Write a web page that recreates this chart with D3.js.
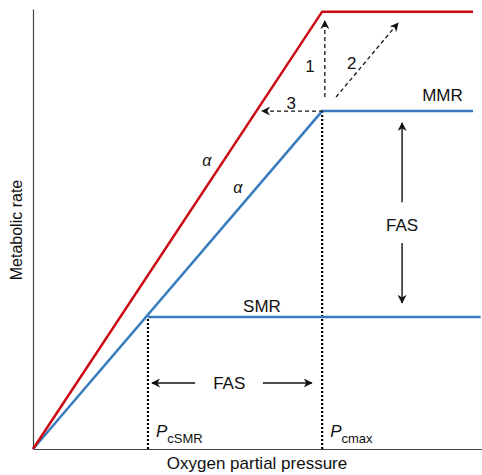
<!DOCTYPE html>
<html>
<head>
<meta charset="utf-8">
<script src="https://cdn.jsdelivr.net/npm/d3@7"></script>
<style>
  html, body { margin: 0; padding: 0; background: #fff; }
  text { font-family: "Liberation Sans", Arial, sans-serif; }
</style>
</head>
<body>
<div id="chart"></div>
<script>
// schematic values (arbitrary units)
const pcSMR = 2.56;
const pcMax = 6.44;
const smr = 3.0;
const mmr = 7.68;
const mmrNew = 9.94;
const xEnd = 9.8;

const redCurve = [[0, 0], [pcMax, mmrNew], [xEnd, mmrNew]];
const blueCurve = [[0, 0], [pcMax, mmr], [xEnd, mmr]];
const smrLine = [[pcSMR, smr], [9.97, smr]];
const dottedLines = [[[pcSMR, 0], [pcSMR, smr]], [[pcMax, 0], [pcMax, mmr]]];

// dashed arrows 1,2,3 : [from, to]
const dashedArrows = [
  [[6.5, 8.0], [6.5, 9.73]],
  [[6.75, 8.0], [8.13, 9.68]],
  [[6.46, mmr], [5.1, mmr]]
];
const dashedLabels = [["1", 6.17, 8.7], ["2", 7.1, 8.77], ["3", 5.75, 7.87]];

// FAS arrows : [from, to]
const fasArrows = [
  [[8.22, 5.61], [8.22, 7.41]],
  [[8.22, 4.68], [8.22, 3.32]],
  [[3.61, 1.5], [2.65, 1.5]],
  [[5.12, 1.5], [6.21, 1.5]]
];
const fasLabels = [[8.22, 5.1], [4.37, 1.5]];

const width = 482, height = 475;
const x = d3.scaleLinear().domain([0, 10]).range([33, 482]);
const y = d3.scaleLinear().domain([0, 10]).range([449, 9]);

const svg = d3.select("#chart").append("svg")
  .attr("width", width).attr("height", height);

const defs = svg.append("defs");
defs.append("marker")
  .attr("id", "head").attr("viewBox", "0 0 10 10")
  .attr("refX", 9).attr("refY", 5)
  .attr("markerWidth", 9).attr("markerHeight", 9)
  .attr("markerUnits", "userSpaceOnUse")
  .attr("orient", "auto")
  .append("path").attr("d", "M0,0 L10,5 L0,10 L3,5 Z").attr("fill", "#111");

// axes
svg.append("g").attr("transform", `translate(0,${y(0)})`)
  .call(d3.axisBottom(x).ticks(0).tickSizeOuter(0))
  .select(".domain").attr("stroke", "#444").attr("stroke-width", 1.2);
svg.append("g").attr("transform", `translate(${x(0)},0)`)
  .call(d3.axisLeft(y).ticks(0).tickSizeOuter(0))
  .select(".domain").attr("stroke", "#444").attr("stroke-width", 1.2);

const line = d3.line().x(d => x(d[0])).y(d => y(d[1]));

// dotted verticals
svg.selectAll(".dot-line").data(dottedLines).enter().append("path")
  .attr("d", line).attr("fill", "none")
  .attr("stroke", "#000").attr("stroke-width", 2.2).attr("stroke-dasharray", "2,2");

svg.append("path").datum(smrLine).attr("d", line)
  .attr("fill", "none").attr("stroke", "#3a7bbf").attr("stroke-width", 2.5);
svg.append("path").datum(blueCurve).attr("d", line)
  .attr("fill", "none").attr("stroke", "#3a7bbf").attr("stroke-width", 2.5);
svg.append("path").datum(redCurve).attr("d", line)
  .attr("fill", "none").attr("stroke", "#cc0a14").attr("stroke-width", 2.5);

// dashed arrows
svg.selectAll(".dash-arrow").data(dashedArrows).enter().append("path")
  .attr("d", line).attr("fill", "none")
  .attr("stroke", "#111").attr("stroke-width", 1.3)
  .attr("stroke-dasharray", "4,3")
  .attr("marker-end", "url(#head)");

svg.selectAll(".dash-label").data(dashedLabels).enter().append("text")
  .attr("x", d => x(d[1])).attr("y", d => y(d[2]))
  .attr("text-anchor", "middle").attr("dy", "0.35em")
  .attr("font-size", 17).attr("fill", "#111").text(d => d[0]);

// FAS arrows
svg.selectAll(".fas-arrow").data(fasArrows).enter().append("path")
  .attr("d", line).attr("fill", "none")
  .attr("stroke", "#111").attr("stroke-width", 1.4)
  .attr("marker-end", "url(#head)");

svg.selectAll(".fas-label").data(fasLabels).enter().append("text")
  .attr("x", d => x(d[0])).attr("y", d => y(d[1]))
  .attr("text-anchor", "middle").attr("dy", "0.35em")
  .attr("font-size", 17).attr("fill", "#111").text("FAS");

// curve labels
svg.append("text").attr("x", x(9.12)).attr("y", y(7.9))
  .attr("text-anchor", "middle").attr("font-size", 17).attr("fill", "#111").text("MMR");
svg.append("text").attr("x", x(5.1)).attr("y", y(3.12))
  .attr("text-anchor", "middle").attr("font-size", 17).attr("fill", "#111").text("SMR");

svg.append("text").attr("x", x(3.87)).attr("y", y(6.44))
  .attr("text-anchor", "middle").attr("font-family", "DejaVu Serif, serif")
  .attr("font-style", "italic").attr("font-size", 16).attr("fill", "#111").text("α");
svg.append("text").attr("x", x(4.56)).attr("y", y(5.82))
  .attr("text-anchor", "middle").attr("font-family", "DejaVu Serif, serif")
  .attr("font-style", "italic").attr("font-size", 16).attr("fill", "#111").text("α");

// critical P labels
const pLabels = [[pcSMR, "cSMR"], [pcMax, "cmax"]];
const pl = svg.selectAll(".plabel").data(pLabels).enter().append("text")
  .attr("x", d => x(d[0]) + 8).attr("y", y(0) - 12)
  .attr("font-size", 17).attr("fill", "#111");
pl.append("tspan").attr("font-style", "italic").text("P");
pl.append("tspan").attr("font-size", 13).attr("dy", 6).text(d => d[1]);

// axis titles
svg.append("text").attr("x", 257).attr("y", 469)
  .attr("text-anchor", "middle").attr("font-size", 17).attr("fill", "#111")
  .text("Oxygen partial pressure");
svg.append("text").attr("transform", "translate(22,230) rotate(-90)")
  .attr("text-anchor", "middle").attr("font-size", 16).attr("fill", "#111")
  .text("Metabolic rate");
</script>
</body>
</html>
